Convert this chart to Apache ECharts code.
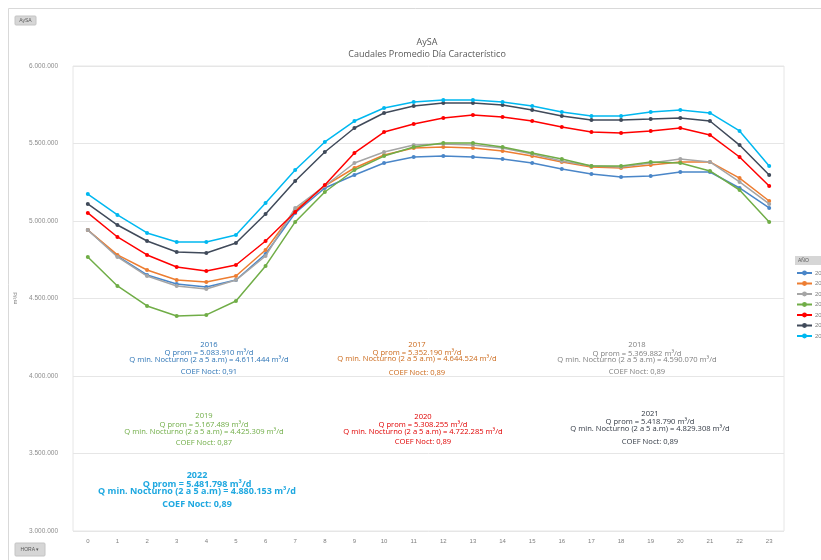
<!DOCTYPE html>
<html><head><meta charset="utf-8">
<script src="https://cdn.jsdelivr.net/npm/echarts@6/dist/echarts.min.js"></script>
<style>html,body{margin:0;padding:0;background:#fff}#c{width:821px;height:560px}</style>
</head><body><div id="c"></div>
<script>
const hours = ['0','1','2','3','4','5','6','7','8','9','10','11','12','13','14','15','16','17','18','19','20','21','22','23'];
const years = ['2016','2017','2018','2019','2020','2021','2022'];
const colors = ['#4a86c8','#ed7d31','#a5a5a5','#70ad47','#ff0000','#404a5a','#00b8f0'];
const textColors = ['#2e75b6','#cc6a1c','#808080','#70ad47','#e00000','#333a45','#1fa8e0'];
const v2016 = [4942000,4774000,4652000,4594000,4574000,4619000,4787000,5052000,5213000,5297000,5374000,5413000,5419000,5413000,5400000,5374000,5335000,5303000,5284000,5290000,5316000,5316000,5213000,5084000];
const v2017 = [4942000,4781000,4684000,4619000,4606000,4645000,4813000,5071000,5226000,5342000,5426000,5471000,5477000,5471000,5452000,5419000,5381000,5348000,5342000,5361000,5381000,5381000,5277000,5129000];
const v2018 = [4942000,4768000,4645000,4581000,4561000,4619000,4774000,5084000,5226000,5374000,5445000,5490000,5497000,5490000,5471000,5432000,5387000,5355000,5348000,5374000,5400000,5381000,5252000,5110000];
const v2019 = [4768000,4581000,4452000,4387000,4394000,4484000,4710000,4994000,5187000,5329000,5419000,5477000,5503000,5503000,5477000,5439000,5400000,5355000,5355000,5381000,5374000,5323000,5200000,4994000];
const v2020 = [5052000,4897000,4781000,4703000,4677000,4716000,4871000,5058000,5232000,5439000,5574000,5626000,5665000,5684000,5671000,5645000,5606000,5574000,5568000,5581000,5600000,5555000,5413000,5226000];
const v2021 = [5110000,4974000,4871000,4800000,4794000,4858000,5045000,5258000,5445000,5600000,5697000,5742000,5761000,5761000,5748000,5716000,5677000,5652000,5652000,5658000,5665000,5645000,5490000,5297000];
const v2022 = [5174000,5039000,4923000,4865000,4865000,4910000,5116000,5329000,5510000,5645000,5729000,5768000,5781000,5781000,5768000,5742000,5703000,5677000,5677000,5703000,5716000,5697000,5581000,5355000];
const seriesValues = [v2016,v2017,v2018,v2019,v2020,v2021,v2022];
const yTicks = {min:3000000, max:6000000, interval:500000};
const notes = [
 ['2016','Q prom = 5.083.910 m³/d','Q min. Nocturno (2 a 5 a.m) = 4.611.444 m³/d','COEF Noct: 0,91'],
 ['2017','Q prom = 5.352.190 m³/d','Q min. Nocturno (2 a 5 a.m) = 4.644.524 m³/d','COEF Noct: 0,89'],
 ['2018','Q prom = 5.369.882 m³/d','Q min. Nocturno (2 a 5 a.m) = 4.590.070 m³/d','COEF Noct: 0,89'],
 ['2019','Q prom = 5.167.489 m³/d','Q min. Nocturno (2 a 5 a.m) = 4.425.309 m³/d','COEF Noct: 0,87'],
 ['2020','Q prom = 5.308.255 m³/d','Q min. Nocturno (2 a 5 a.m) = 4.722.285 m³/d','COEF Noct: 0,89'],
 ['2021','Q prom = 5.418.790 m³/d','Q min. Nocturno (2 a 5 a.m) = 4.829.308 m³/d','COEF Noct: 0,89'],
 ['2022','Q prom = 5.481.798 m³/d','Q min. Nocturno (2 a 5 a.m) = 4.880.153 m³/d','COEF Noct: 0,89']
];
// [centerX, y of each of the 4 lines, font size, bold]
const notePos = [
 [209,[345,353,360,372],7.6,false],
 [417,[345,353,359,373],7.6,false],
 [637,[345,354,360,372],7.6,false],
 [204,[416,425,432,443],7.6,false],
 [423,[417,425,432,442],7.6,false],
 [650,[414,422,429,442],7.6,false],
 [197,[475,484,491,504],9,true]
];

function fmt(v){return String(v).replace(/\B(?=(\d{3})+(?!\d))/g,'.');}

const chart = echarts.init(document.getElementById('c'), null, {renderer:'canvas'});
const graphics = [
 {type:'rect', shape:{x:8.5,y:8.5,width:830,height:560}, style:{fill:'none',stroke:'#d9d9d9',lineWidth:1}, silent:true},
 {type:'rect', shape:{x:15,y:16,width:21,height:9,r:1}, style:{fill:'#d6d6d6',stroke:'#c4c4c4'}},
 {type:'text', x:25.5, y:20.5, style:{text:'AySA', fill:'#595959', font:'5px sans-serif', align:'center', verticalAlign:'middle'}},
 {type:'rect', shape:{x:15,y:543,width:30,height:13,r:1}, style:{fill:'#d6d6d6',stroke:'#c4c4c4'}},
 {type:'text', x:30, y:549.5, style:{text:'HORA ▾', fill:'#595959', font:'5px sans-serif', align:'center', verticalAlign:'middle'}},
 {type:'rect', shape:{x:795,y:256,width:40,height:9}, style:{fill:'#d6d6d6'}},
 {type:'text', x:798, y:260.5, style:{text:'AÑO', fill:'#595959', font:'5px sans-serif', verticalAlign:'middle'}}
];
notes.forEach((n,i)=>{
  const [cx,ys,fs,bold]=notePos[i];
  const font=(bold?'bold ':'')+fs+'px "Open Sans", sans-serif';
  n.forEach((t,k)=>{
    graphics.push({type:'text',x:cx,y:ys[k],z:10,style:{text:t,fill:textColors[i],font:font,align:'center',verticalAlign:'middle'}});
  });
});

chart.setOption({
  animation:false,
  backgroundColor:'#fff',
  color:colors,
  title:{text:'AySA\nCaudales Promedio Día Característico', left:422, top:31, textAlign:'center',
    textStyle:{fontSize:9, fontWeight:'normal', color:'#595959', fontFamily:'"Open Sans", sans-serif', lineHeight:12}},
  legend:{orient:'vertical', left:796, top:270, padding:0, itemGap:4.5, itemWidth:15, itemHeight:6,
    textStyle:{fontSize:6, color:'#7f7f7f', padding:[0,0,0,-2]}, data:years},
  grid:{left:73, right:37, top:66, bottom:29, show:true, borderColor:'#e6e6e6', borderWidth:1},
  xAxis:{type:'category', data:hours, boundaryGap:true,
    axisLine:{show:false}, axisTick:{show:false},
    axisLabel:{fontSize:6, color:'#7f7f7f', margin:7}},
  yAxis:{type:'value', min:yTicks.min, max:yTicks.max, interval:yTicks.interval,
    name:'m³/d', nameLocation:'middle', nameGap:50, nameTextStyle:{fontSize:6,color:'#7f7f7f'},
    axisLabel:{fontSize:6.5, color:'#8c8c8c', margin:15, formatter:v=>fmt(v)},
    splitLine:{lineStyle:{color:'#e6e6e6'}}, axisLine:{show:false}, axisTick:{show:false}},
  graphic:graphics,
  series: years.map((y,i)=>({name:y, type:'line', data:seriesValues[i], symbol:'circle', symbolSize:4,
    lineStyle:{width:1.5}, itemStyle:{color:colors[i]}, z:2+i}))
});
</script></body></html>
